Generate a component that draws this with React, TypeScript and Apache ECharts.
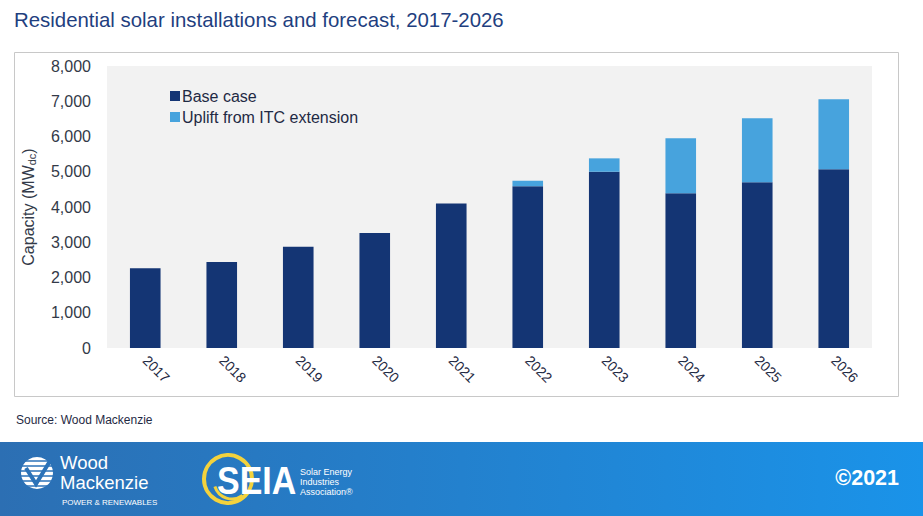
import React, { useEffect, useRef } from "react";
import * as echarts from "echarts";

const years = ["2017", "2018", "2019", "2020", "2021", "2022", "2023", "2024", "2025", "2026"];
const baseCase = [2260, 2440, 2870, 3260, 4100, 4590, 5000, 4390, 4700, 5070];
const uplift: (number | null)[] = [null, null, null, null, null, 155, 380, 1560, 1820, 1990];
const yTicks = { min: 0, max: 8000, interval: 1000 };

const FONT = "Liberation Sans, Arial, sans-serif";
const TEXT = "#1f2a44";

export default function App() {
  const ref = useRef<HTMLDivElement>(null);
  useEffect(() => {
    if (!ref.current) return;
    const chart = echarts.init(ref.current, undefined, { renderer: "svg" });
    const stripes = [-12, -7, -2, 3, 8, 13].map((dy) => ({
      type: "line",
      shape: { x1: 21, y1: 473 + dy, x2: 53, y2: 473 + dy },
      style: { stroke: "#2b72b8", lineWidth: 1.5 },
      z: 12,
    }));
    chart.setOption({
      animation: false,
      backgroundColor: "#ffffff",
      textStyle: { fontFamily: FONT },
      grid: {
        left: 107,
        right: 51,
        top: 66,
        bottom: 168,
        show: true,
        backgroundColor: "#f2f2f2",
        borderWidth: 0,
        containLabel: false,
      },
      legend: {
        orient: "vertical",
        left: 165,
        top: 83,
        itemWidth: 10,
        itemHeight: 10,
        itemGap: 5,
        icon: "rect",
        textStyle: { fontSize: 16, color: TEXT, fontFamily: FONT, padding: [0, 0, 0, -3] },
        data: ["Base case", "Uplift from ITC extension"],
      },
      xAxis: {
        type: "category",
        data: years,
        axisLine: { show: false },
        axisTick: { show: false },
        axisLabel: {
          rotate: -45,
          fontSize: 14,
          color: TEXT,
          fontFamily: FONT,
          margin: 10,
          interval: 0,
        },
      },
      yAxis: {
        type: "value",
        min: yTicks.min,
        max: yTicks.max,
        interval: yTicks.interval,
        axisLine: { show: false },
        axisTick: { show: false },
        splitLine: { show: false },
        axisLabel: {
          fontSize: 16,
          color: "#333a48",
          fontFamily: FONT,
          margin: 16,
          formatter: (v: number) => v.toLocaleString("en-US"),
        },
        name: "{a|Capacity (MW}{b|dc}{a|)}",
        nameLocation: "middle",
        nameRotate: 90,
        nameGap: 70,
        nameTextStyle: {
          rich: {
            a: { fontSize: 16, color: "#333a48", fontFamily: FONT },
            b: { fontSize: 11, color: "#333a48", fontFamily: FONT, verticalAlign: "bottom", padding: [6, 0, 0, 0] },
          },
        },
      },
      series: [
        {
          name: "Base case",
          type: "bar",
          stack: "total",
          data: baseCase,
          barWidth: "40%",
          itemStyle: { color: "#143574" },
        },
        {
          name: "Uplift from ITC extension",
          type: "bar",
          stack: "total",
          data: uplift,
          barWidth: "40%",
          itemStyle: { color: "#47a3dd" },
        },
      ],
      graphic: [
        {
          type: "text",
          left: 14,
          top: 10,
          style: {
            text: "Residential solar installations and forecast, 2017-2026",
            fontSize: 20.4,
            fill: "#1f3f7f",
            fontFamily: FONT,
          },
        },
        {
          type: "rect",
          shape: { x: 14.5, y: 52.5, width: 884, height: 344 },
          style: { fill: "none", stroke: "#c8c8c8", lineWidth: 1 },
          z: -1,
        },
        {
          type: "text",
          left: 16,
          top: 414,
          style: { text: "Source: Wood Mackenzie", fontSize: 12, fill: "#1f2a44", fontFamily: FONT },
        },
        {
          type: "rect",
          shape: { x: 0, y: 442, width: 923, height: 74 },
          style: {
            fill: new echarts.graphic.LinearGradient(0, 0, 1, 0, [
              { offset: 0, color: "#2c6fb3" },
              { offset: 1, color: "#1a93e9" },
            ]),
          },
          z: 10,
        },
        {
          type: "circle",
          shape: { cx: 37, cy: 473, r: 16 },
          style: { fill: "#ffffff" },
          z: 11,
        },
        ...stripes,
        {
          type: "polyline",
          shape: { points: [[26, 468], [36, 484], [50, 461]] },
          style: { stroke: "#2b72b8", lineWidth: 4, fill: "none" },
          z: 13,
        },
        {
          type: "text",
          left: 60,
          top: 453,
          style: { text: "Wood", fontSize: 18.5, fill: "#ffffff", fontFamily: FONT },
          z: 12,
        },
        {
          type: "text",
          left: 60,
          top: 473,
          style: { text: "Mackenzie", fontSize: 18.5, fill: "#ffffff", fontFamily: FONT },
          z: 12,
        },
        {
          type: "text",
          left: 62,
          top: 498,
          style: { text: "POWER & RENEWABLES", fontSize: 8, fill: "#ffffff", fontFamily: FONT },
          z: 12,
        },
        {
          type: "arc",
          shape: { cx: 228, cy: 479, r: 24, startAngle: 0, endAngle: Math.PI * 2 },
          style: { stroke: "#f3d23d", lineWidth: 4, fill: "none" },
          z: 11,
        },
        {
          type: "arc",
          shape: { cx: 232, cy: 481, r: 18, startAngle: Math.PI * 0.3, endAngle: Math.PI * 0.9 },
          style: { stroke: "#f3d23d", lineWidth: 3, fill: "none" },
          z: 11,
        },
        {
          type: "text",
          x: 217,
          y: 461,
          scaleX: 0.87,
          style: { text: "SEIA", fontSize: 39, fontWeight: "bold", fill: "#ffffff", fontFamily: FONT },
          z: 12,
        },
        {
          type: "text",
          left: 300,
          top: 467,
          style: {
            text: "Solar Energy\nIndustries\nAssociation®",
            fontSize: 9,
            lineHeight: 10,
            fill: "#ffffff",
            fontFamily: FONT,
          },
          z: 12,
        },
        {
          type: "text",
          right: 24,
          top: 467,
          style: { text: "©2021", fontSize: 21.5, fontWeight: "bold", fill: "#ffffff", fontFamily: FONT },
          z: 12,
        },
      ],
    });
    return () => chart.dispose();
  }, []);
  return (
    <div
      ref={ref}
      style={{ position: "fixed", left: 0, top: 0, width: 923, height: 516 }}
    />
  );
}
